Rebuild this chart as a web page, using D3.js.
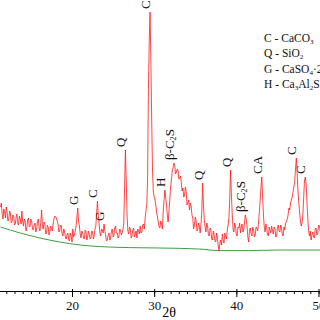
<!DOCTYPE html>
<html>
<head>
<meta charset="utf-8">
<script src="https://cdn.jsdelivr.net/npm/d3@7"></script>
<style>
body { margin: 0; background: #fff; }
svg { display: block; font-family: "Liberation Serif", "Times New Roman", serif; }
</style>
</head>
<body>
<svg id="chart" width="320" height="320"></svg>
<script>
// XRD scan, 2theta from 11.3 deg in steps of 0.1 deg (intensity, a.u.)
var scanStart = 11.3, scanStep = 0.1;
var counts = [
    420, 440, 385, 360, 410, 395, 365, 420, 395, 350,
    355, 400, 390, 340, 345, 380, 375, 330, 335, 370,
    385, 340, 330, 375, 360, 335, 400, 345, 325, 360,
    350, 300, 315, 355, 365, 320, 325, 360, 345, 310,
    305, 330, 340, 295, 310, 345, 360, 315, 300, 340,
    405, 330, 310, 345, 335, 285, 290, 330, 320, 280,
    295, 325, 315, 300, 335, 360, 375, 370, 365, 350,
    335, 295, 300, 330, 325, 285, 275, 310, 295, 270,
    260, 285, 290, 255, 250, 290, 275, 245, 310, 270,
    280, 300, 325, 370, 415, 350, 325, 285, 265, 300,
    290, 265, 260, 305, 300, 255, 270, 300, 285, 260,
    265, 300, 295, 260, 275, 310, 325, 390, 450, 380,
    335, 290, 275, 310, 305, 290, 335, 300, 275, 250,
    255, 280, 290, 255, 265, 300, 310, 270, 275, 315,
    325, 290, 290, 265, 270, 310, 305, 280, 290, 310,
    335, 520, 705, 560, 380, 300, 285, 320, 310, 265,
    275, 305, 315, 270, 285, 300, 265, 310, 300, 285,
    325, 290, 295, 330, 335, 310, 365, 400, 430, 560,
    1005, 1250, 1395, 1150, 855, 600, 495, 470, 455, 430,
    395, 370, 345, 320, 315, 350, 335, 310, 395, 450,
    505, 470, 430, 380, 345, 400, 455, 520, 555, 600,
    615, 640, 630, 585, 595, 610, 605, 560, 565, 575,
    545, 500, 515, 470, 480, 520, 495, 430, 440, 455,
    405, 440, 425, 380, 365, 310, 330, 370, 355, 300,
    305, 340, 325, 290, 335, 400, 540, 430, 355, 320,
    295, 340, 325, 280, 275, 315, 310, 260, 255, 300,
    280, 250, 245, 290, 265, 225, 200, 240, 255, 230,
    285, 255, 240, 290, 275, 260, 305, 330, 365, 470,
    605, 480, 385, 310, 295, 340, 325, 280, 275, 320,
    315, 340, 290, 320, 335, 295, 305, 345, 380, 360,
    325, 270, 245, 300, 315, 285, 275, 320, 305, 270,
    280, 320, 315, 300, 345, 390, 455, 520, 570, 470,
    380, 320, 295, 335, 315, 280, 275, 320, 305, 290,
    325, 300, 285, 320, 310, 270, 275, 315, 330, 300,
    295, 330, 315, 280, 275, 320, 305, 340, 345, 360,
    380, 415, 405, 440, 455, 470, 495, 520, 545, 610,
    665, 590, 505, 440, 395, 350, 325, 340, 385, 470,
    555, 570, 530, 440, 365, 300, 275, 300, 255, 280,
    295, 270, 265, 310, 315, 280, 285, 330, 325, 300
];

// fitted background
var bgAngles = [11.3, 13.7, 16.1, 18.5, 21.0, 23.4, 27.0, 30.6, 35.5, 37.9, 41.5, 45.1, 50.3];
var bgCounts = [320, 290, 265, 245, 230, 222, 217, 215, 210, 202, 202, 205, 205];

// phase identification
var peakAngles = [20.7, 23.1, 23.9, 26.5, 29.5, 31.3, 32.4, 35.9, 39.3, 41.1, 43.1, 47.3, 48.4];
var peakLabels = ["G", "C", "G", "Q", "C", "H", "β-C_2S", "Q", "Q", "β-C_2S", "CA", "C", "C"];

var legendCodes = ["C", "Q", "G", "H"];
var legendPhases = ["CaCO_3", "SiO_2", "CaSO_4·2H_2O", "Ca_3Al_2Si_3O_12"];

var majorTicks = [20, 30, 40, 50];
var minorTicks = d3.range(12, 51);

var svg = d3.select("#chart");

var x = d3.scaleLinear().domain([20, 50]).range([72, 318.5]);
var y = d3.scaleLinear().domain([0, 1400]).range([291, 11]);

var scan = counts.map(function (c, i) { return [scanStart + i * scanStep, c]; });
var bg = bgAngles.map(function (a, i) { return [a, bgCounts[i]]; });

// write "CaCO_3" style strings with subscripts
function formula(text, s) {
    var parts = s.split(/_(\d+)/);
    parts.forEach(function (p, i) {
        if (!p) return;
        if (i % 2) {
            text.append("tspan").attr("font-size", "0.62em").attr("dy", 2).text(p);
        } else {
            text.append("tspan").attr("dy", i ? -2 : 0).text(p);
        }
    });
}

// axis
var axisMinor = d3.axisBottom(x).tickValues(minorTicks).tickSize(3).tickFormat("");
svg.append("g")
    .attr("transform", "translate(0,291)")
    .call(axisMinor)
    .call(function (g) { g.select(".domain").remove(); });

var axisMajor = d3.axisBottom(x).tickValues(majorTicks).tickSize(6).tickPadding(4);
var gx = svg.append("g")
    .attr("transform", "translate(0,291)")
    .call(axisMajor);
gx.select(".domain").remove();
gx.selectAll(".tick line").attr("y1", -2);
gx.selectAll(".tick text")
    .attr("font-family", "Liberation Serif, serif")
    .attr("font-size", 13)
    .attr("fill", "#111");

svg.append("line")
    .attr("x1", 0).attr("x2", 320)
    .attr("y1", 291.5).attr("y2", 291.5)
    .attr("stroke", "#000");

svg.append("text")
    .attr("x", 169).attr("y", 317)
    .attr("text-anchor", "middle")
    .attr("font-size", 14)
    .text("2θ");

// background line
svg.append("path")
    .datum(bg)
    .attr("fill", "none")
    .attr("stroke", "#3f9f3f")
    .attr("stroke-width", 1)
    .attr("d", d3.line()
        .x(function (d) { return x(d[0]); })
        .y(function (d) { return y(d[1]); })
        .curve(d3.curveMonotoneX));

// pattern
svg.append("path")
    .datum(scan)
    .attr("fill", "none")
    .attr("stroke", "#ff1a1a")
    .attr("stroke-width", 0.8)
    .attr("d", d3.line()
        .x(function (d) { return x(d[0]); })
        .y(function (d) { return y(d[1]); }));

// peak labels, rotated, sitting just above each peak
peakAngles.forEach(function (a, i) {
    var top = d3.max(scan, function (d) { return Math.abs(d[0] - a) < 0.15 ? d[1] : 0; });
    var t = svg.append("text")
        .attr("transform", "translate(" + x(a) + "," + (y(top) - 3) + ") rotate(-90)")
        .attr("dy", "0.35em")
        .attr("font-size", 13)
        .attr("fill", "#111");
    formula(t, peakLabels[i]);
});

// legend
legendCodes.forEach(function (c, i) {
    var t = svg.append("text")
        .attr("x", 264)
        .attr("y", 42 + i * 15.3)
        .attr("font-size", 11.5)
        .attr("fill", "#111");
    t.append("tspan").text(c + " - ");
    formula(t, legendPhases[i]);
});
</script>
</body>
</html>
